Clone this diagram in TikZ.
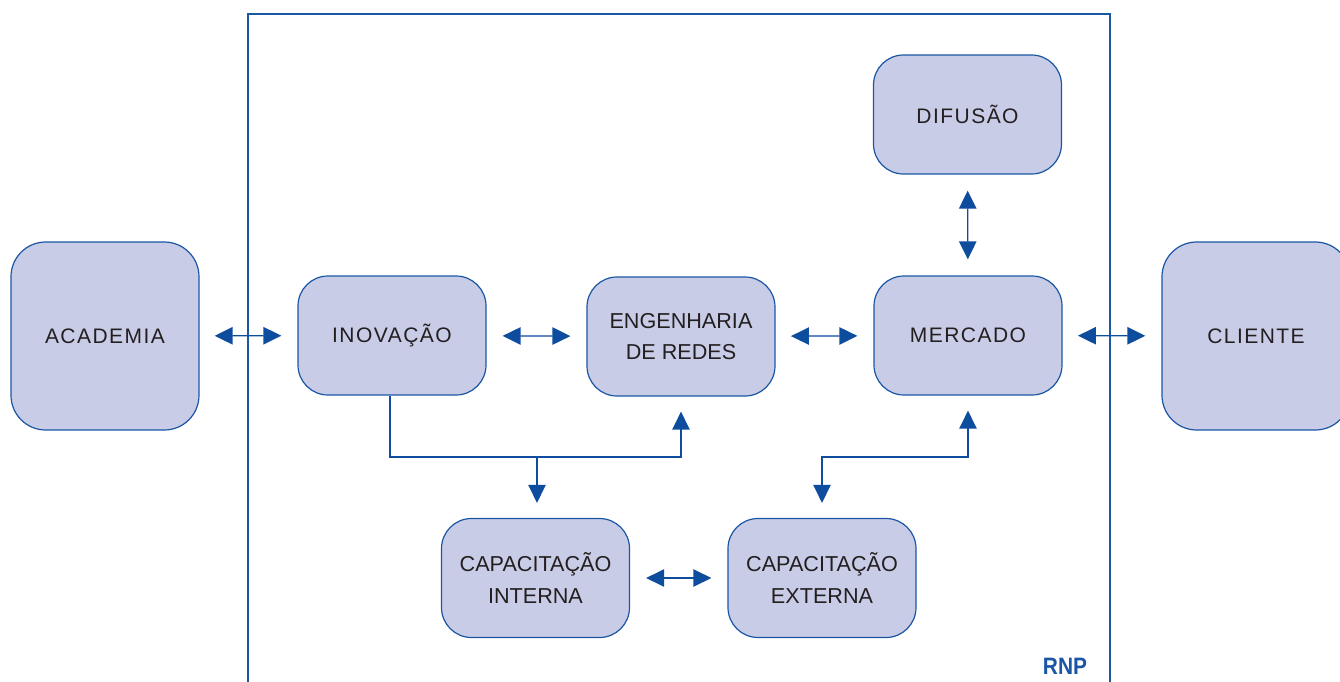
\documentclass[tikz,border=0pt]{standalone}
\usepackage{fontspec}
\setmainfont{Liberation Sans}
\newfontfamily\trackfont[LetterSpace=7]{Liberation Sans}
\usetikzlibrary{arrows.meta}
\definecolor{boxfill}{HTML}{C8CCE6}
\definecolor{rnpblue}{HTML}{1A56A4}
\definecolor{arrblue}{HTML}{0E4C9E}
\definecolor{txt}{HTML}{231F20}
\tikzset{
  box/.style={draw=rnpblue, line width=0.9pt, fill=boxfill, rounded corners=22.5pt,
    minimum width=141pt, minimum height=89.25pt, inner sep=0pt, align=center,
    text=txt, font=\fontsize{16.2pt}{23.5pt}\selectfont},
  bigbox/.style={box, minimum height=141pt, rounded corners=26pt},
  track/.style={font=\fontsize{15.75pt}{23.25pt}\selectfont\trackfont},
  conn/.style={draw=arrblue, line width=1pt},
  biarrow/.style={conn, {Triangle[length=13.5pt, width=13pt]}-{Triangle[length=13.5pt, width=13pt]}},
  toarrow/.style={conn, -{Triangle[length=13.5pt, width=13pt]}},
  frameline/.style={draw=rnpblue, line width=1pt}
}
\begin{document}
\begin{tikzpicture}[x=0.75pt, y=-0.75pt]
\useasboundingbox (0,0) rectangle (1340,682);
% frame
\draw[frameline] (248,690) -- (248,14) -- (1110,14) -- (1110,690);
% nodes
\node[bigbox, track] (acad) at (105,336) {ACADEMIA};
\node[bigbox, track] (cli) at (1256,336) {CLIENTE};
\node[box, track] (inov) at (392,335.5) {INOVAÇÃO};
\node[box] (eng) at (681,336.5) {ENGENHARIA\\DE REDES};
\node[box, track] (merc) at (968,335.5) {MERCADO};
\node[box, track] (dif) at (967.5,114.5) {DIFUSÃO};
\node[box, font=\fontsize{16.2pt}{24pt}\selectfont] (capi) at (535.5,578) {CAPACITAÇÃO\\INTERNA};
\node[box, font=\fontsize{16.2pt}{24pt}\selectfont] (cape) at (822,578) {CAPACITAÇÃO\\EXTERNA};
\node[text=rnpblue, font=\fontsize{17.8pt}{20pt}\selectfont\bfseries, xscale=0.88, inner sep=0pt] (rnp) at (1065,666) {RNP};
% horizontal arrows
\draw[biarrow, shorten <=11.25pt, shorten >=12pt] (acad) -- (inov);
\draw[biarrow, shorten <=12pt, shorten >=12pt] (inov) -- (eng);
\draw[biarrow, shorten <=11.5pt, shorten >=12pt] (eng) -- (merc);
\draw[biarrow, shorten <=11.5pt, shorten >=12pt] (merc) -- (cli);
\draw[biarrow, shorten <=12pt, shorten >=12pt] (capi) -- (cape);
\draw[biarrow, shorten <=12pt, shorten >=12pt] (dif) -- (merc);
% tree connectors
\coordinate (jl) at (390,457);
\coordinate (jm) at (537,457);
\coordinate (jr) at (822,457);
\draw[toarrow, shorten >=11.25pt] (jl |- inov.south) -- (jl) -- (eng.south |- jl) -- (eng.south);
\draw[toarrow, shorten >=11.25pt] (jm) -- (jm |- capi.north);
\draw[biarrow, shorten <=11.25pt, shorten >=11.25pt] (merc.south) -- (merc.south |- jr) -- (jr) -- (cape.north);
\end{tikzpicture}
\end{document}
